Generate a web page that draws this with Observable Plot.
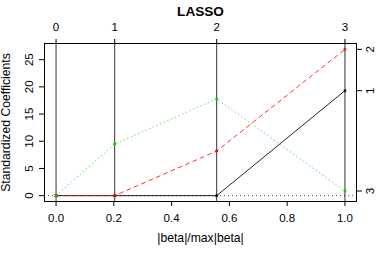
<!DOCTYPE html>
<html>
<head>
<meta charset="utf-8">
<script src="https://cdn.jsdelivr.net/npm/d3@7"></script>
<script src="https://cdn.jsdelivr.net/npm/@observablehq/plot@0.6"></script>
<style>
  html, body { margin: 0; padding: 0; background: #fff; }
</style>
</head>
<body>
<div id="chart"></div>
<script>
// ---- data ----
const steps = [0, 1, 2, 3];                    // LASSO step numbers (top axis)
const fraction = [0, 0.203, 0.556, 1.0];       // |beta|/max|beta| at each step
const coefV1 = [0, 0, 0, 19.3];                // variable 1 (black, solid)
const coefV2 = [0, 0, 8.2, 26.9];              // variable 2 (red, dashed)
const coefV3 = [0, 9.5, 17.8, 0.85];           // variable 3 (green, dotted)
const varLabels = ["1", "2", "3"];
const xTicks = [0, 0.2, 0.4, 0.6, 0.8, 1.0];
const yTicks = [0, 5, 10, 15, 20, 25];

// ---- build tables ----
const series = [
  {name: varLabels[0], values: coefV1, color: "#000000", dash: null, op: 0.85},
  {name: varLabels[1], values: coefV2, color: "#FF0000", dash: "4,4", op: 0.8},
  {name: varLabels[2], values: coefV3, color: "#00CD00", dash: "1,3", op: 0.55}
];
const rows = series.flatMap(s => s.values.map((v, i) => ({x: fraction[i], y: v, name: s.name})));
const ends = series.map(s => ({y: s.values[s.values.length - 1], label: s.name}));

// R-style 4% axis extension
const allY = series.flatMap(s => s.values);
const [y0, y1] = d3.extent(allY);
const yPad = (y1 - y0) * 0.04;
const [x0, x1] = d3.extent(fraction);
const xPad = (x1 - x0) * 0.04;

const font = "'Liberation Sans', Arial, Helvetica, sans-serif";
const tickFs = 11.5;
const labFs = 12.2;

const marks = [];
// zero reference line
marks.push(Plot.ruleY([0], {stroke: "#000", strokeWidth: 1, strokeDasharray: "1,3", strokeOpacity: 0.7}));
// step verticals
marks.push(Plot.ruleX(fraction, {stroke: "#000", strokeWidth: 1, strokeOpacity: 0.8}));
// coefficient paths
series.forEach(s => {
  const d = rows.filter(r => r.name === s.name);
  marks.push(Plot.line(d, {x: "x", y: "y", stroke: s.color, strokeWidth: 1, strokeOpacity: s.op,
    strokeDasharray: s.dash || undefined}));
  marks.push(Plot.dot(d, {x: "x", y: "y", stroke: s.color, symbol: "asterisk", r: 1.5, strokeWidth: 1}));
});
// frame
marks.push(Plot.frame({stroke: "#000", strokeWidth: 1}));
// bottom axis
marks.push(Plot.axisX({anchor: "bottom", ticks: xTicks, tickSize: 5, tickPadding: 7, tickFormat: d3.format(".1f"),
  label: null, fontSize: tickFs, stroke: "#000", fill: "#000"}));
// top axis (steps)
marks.push(Plot.axisX(fraction, {anchor: "top", tickSize: 5, tickPadding: 8,
  tickFormat: d => String(steps[fraction.indexOf(d)]), label: null, fontSize: tickFs, stroke: "#000", fill: "#000"}));
// left axis ticks + rotated labels
marks.push(Plot.axisY({anchor: "left", ticks: yTicks, tickSize: 5, tickFormat: () => "", label: null}));
marks.push(Plot.text(yTicks, {y: d => d, text: d => String(d), frameAnchor: "left", dx: -15.5,
  rotate: -90, textAnchor: "middle", lineAnchor: "middle", fontSize: tickFs, fill: "#000"}));
// right axis ticks + rotated labels
marks.push(Plot.axisY(ends.map(e => e.y), {anchor: "right", tickSize: 5, tickFormat: () => "", label: null}));
marks.push(Plot.text(ends, {y: "y", text: "label", frameAnchor: "right", dx: 14,
  rotate: -90, textAnchor: "middle", lineAnchor: "middle", fontSize: tickFs, fill: "#000"}));
// titles
marks.push(Plot.text(["LASSO"], {text: d => d, frameAnchor: "top", dy: -32, lineAnchor: "middle",
  fontSize: 13.6, fontWeight: "bold", fill: "#000"}));
marks.push(Plot.text(["|beta|/max|beta|"], {text: d => d, frameAnchor: "bottom", dy: 37, lineAnchor: "middle",
  fontSize: labFs, fill: "#000"}));
marks.push(Plot.text(["Standardized Coefficients"], {text: d => d, frameAnchor: "left", dx: -38,
  rotate: -90, textAnchor: "middle", lineAnchor: "middle", fontSize: labFs, fill: "#000"}));

const chart = Plot.plot({
  width: 379,
  height: 256,
  marginLeft: 44,
  marginRight: 23,
  marginTop: 43,
  marginBottom: 55,
  style: {fontFamily: font, fontSize: "11.5px", background: "#fff", color: "#000", overflow: "visible"},
  x: {domain: [x0 - xPad, x1 + xPad], axis: null},
  y: {domain: [y0 - yPad, y1 + yPad], axis: null},
  marks
});
document.getElementById("chart").appendChild(chart);
</script>
</body>
</html>
